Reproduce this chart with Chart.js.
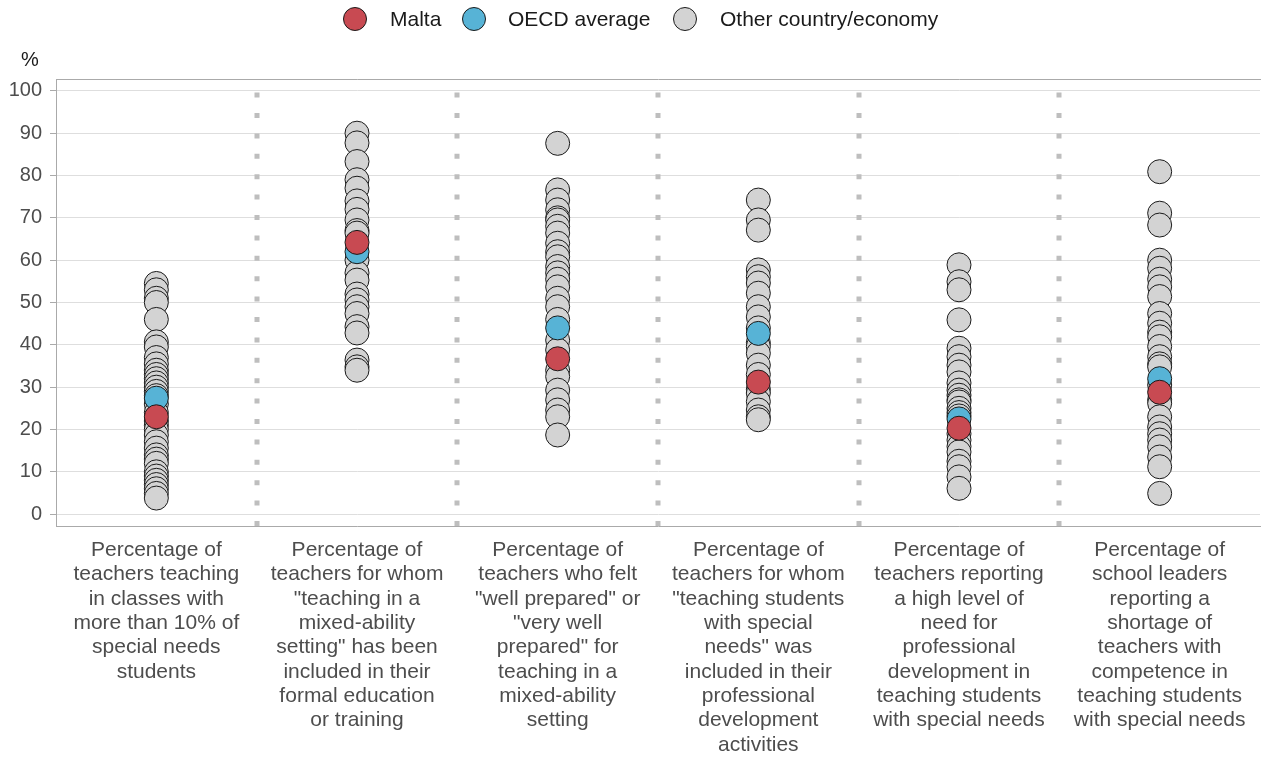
<!DOCTYPE html>
<html>
<head>
<meta charset="utf-8">
<script src="https://cdn.jsdelivr.net/npm/chart.js@4/dist/chart.umd.min.js"></script>
<style>
  body { margin: 0; background: #fff; }
  #wrap { position: relative; width: 1261px; height: 758px; font-family: "Liberation Sans", Arial, sans-serif; }
  .dot { position: absolute; top: 7px; width: 24px; height: 24px; border-radius: 50%; border: 1px solid #1a1a1a; box-sizing: border-box; }
  .lbl { position: absolute; top: 7px; line-height: 24px; font-size: 21px; color: #1a1a1a; }
</style>
</head>
<body>
<div id="wrap">
  <canvas id="chart" width="1261" height="758"></canvas>
  <div class="dot" style="left:343px;background:#c84a52"></div><div class="lbl" style="left:390px">Malta</div>
  <div class="dot" style="left:462px;background:#57b3d6"></div><div class="lbl" style="left:508px">OECD average</div>
  <div class="dot" style="left:673px;background:#d3d3d3"></div><div class="lbl" style="left:720px">Other country/economy</div>
</div>
<script>
// categories (x labels, one array of lines per column)
var categories = [
  ["Percentage of", "teachers teaching", "in classes with", "more than 10% of", "special needs", "students"],
  ["Percentage of", "teachers for whom", "\"teaching in a", "mixed-ability", "setting\" has been", "included in their", "formal education", "or training"],
  ["Percentage of", "teachers who felt", "\"well prepared\" or", "\"very well", "prepared\" for", "teaching in a", "mixed-ability", "setting"],
  ["Percentage of", "teachers for whom", "\"teaching students", "with special", "needs\" was", "included in their", "professional", "development", "activities"],
  ["Percentage of", "teachers reporting", "a high level of", "need for", "professional", "development in", "teaching students", "with special needs"],
  ["Percentage of", "school leaders", "reporting a", "shortage of", "teachers with", "competence in", "teaching students", "with special needs"]
];

var maltaValues = [23, 64.2, 36.7, 31.2, 20.3, 28.8];
var oecdValues = [27.4, 62, 44, 42.7, 22.5, 32];

var otherCol1 = [54.5, 53, 51, 50, 46, 40.7, 39.5, 37, 35.5, 34, 33, 32, 31, 30, 29, 28, 26, 24, 22, 21, 20, 18.7, 17.1, 15.6, 14, 13, 12, 10, 9, 8, 7, 6, 4.9, 3.8];
var otherCol2 = [90, 87.7, 83.3, 79, 77, 74, 72, 69.5, 67, 66.4, 60, 57, 55.3, 52, 50.6, 49, 47.4, 44.3, 42.8, 36.4, 34.8, 34];
var otherCol3 = [87.6, 76.6, 74.2, 71.9, 70, 69.5, 68, 66.4, 64, 62, 60.8, 58.5, 57, 55.5, 53.7, 51, 49, 46, 41.1, 38.8, 34, 32.5, 29.3, 27, 24.6, 23, 18.7];
var otherCol4 = [74.2, 69.5, 67.1, 57.7, 56.1, 54.6, 52.2, 49, 46.6, 44, 40.5, 39.6, 38, 35.2, 33, 29.5, 28.6, 26.6, 24.6, 23, 22.3];
var otherCol5 = [58.9, 54.9, 53, 45.9, 39.2, 37.2, 35.2, 33.6, 31, 29.3, 28.1, 27, 26.5, 25, 24, 23.2, 19, 17.5, 16, 14.7, 12.5, 11.2, 8.8, 6.1];
var otherCol6 = [80.9, 71.1, 68.3, 60, 58.1, 55.5, 53.7, 51.4, 47.4, 45.1, 43, 41.9, 39.6, 37.2, 35.5, 34.8, 30.5, 27, 26.2, 23, 20.6, 19, 17.5, 15.9, 13.5, 11.2, 4.9];
var otherValues = [otherCol1, otherCol2, otherCol3, otherCol4, otherCol5, otherCol6];

var yTicks = [0, 10, 20, 30, 40, 50, 60, 70, 80, 90, 100];

function toPoints(vals) {
  return vals.map(function(v, i){ return {x: i + 1, y: v}; });
}
var otherPoints = [];
otherValues.forEach(function(col, i){
  col.forEach(function(v){ otherPoints.push({x: i + 1, y: v}); });
});

var frame = {
  id: 'frame',
  beforeDatasetsDraw: function(chart) {
    var ctx = chart.ctx, a = chart.chartArea, x = chart.scales.x;
    ctx.save();
    // dotted separators between columns
    ctx.strokeStyle = '#bebebe';
    ctx.lineWidth = 5;
    ctx.setLineDash([5, 15.4]);
    for (var i = 1; i < categories.length; i++) {
      var px = Math.round(x.getPixelForValue(i + 0.5));
      ctx.beginPath();
      ctx.moveTo(px, a.bottom);
      ctx.lineTo(px, a.top);
      ctx.stroke();
    }
    // top border
    ctx.setLineDash([]);
    ctx.lineWidth = 1;
    ctx.strokeStyle = '#aaaaaa';
    ctx.beginPath();
    ctx.moveTo(a.left, a.top + 0.5);
    ctx.lineTo(chart.width, a.top + 0.5);
    ctx.stroke();
    // unit label
    ctx.fillStyle = '#1a1a1a';
    ctx.font = '20px "Liberation Sans", Arial, sans-serif';
    ctx.textAlign = 'center';
    ctx.textBaseline = 'middle';
    ctx.fillText('%', 30, 60);
    ctx.restore();
  }
};

new Chart(document.getElementById('chart'), {
  type: 'scatter',
  data: {
    datasets: [
      { label: 'Malta', data: toPoints(maltaValues), backgroundColor: '#c84a52' },
      { label: 'OECD average', data: toPoints(oecdValues), backgroundColor: '#57b3d6' },
      { label: 'Other country/economy', data: otherPoints, backgroundColor: '#d3d3d3' }
    ]
  },
  options: {
    responsive: false,
    animation: false,
    devicePixelRatio: 1,
    layout: { autoPadding: false, padding: { top: 79, right: 1, left: 0, bottom: 0 } },
    elements: {
      point: { radius: 12, borderWidth: 1, borderColor: '#1a1a1a', hoverRadius: 12 }
    },
    plugins: { legend: { display: false }, tooltip: { enabled: false } },
    scales: {
      x: {
        type: 'linear',
        min: 0.5,
        max: 6.5,
        afterBuildTicks: function(scale){
          scale.ticks = categories.map(function(c, i){ return {value: i + 1}; });
        },
        afterFit: function(scale){
          scale.height = 232;
          scale.paddingLeft = 0;
          scale.paddingRight = 0;
        },
        grid: { display: false, drawTicks: false },
        border: { display: true, color: '#aaaaaa', width: 1 },
        ticks: {
          autoSkip: false,
          maxRotation: 0,
          padding: 12,
          color: '#4d4d4d',
          font: { family: '"Liberation Sans", Arial, sans-serif', size: 21, lineHeight: 1.16 },
          callback: function(v){ return categories[v - 1] || ''; }
        }
      },
      y: {
        min: -2.8,
        max: 102.8,
        afterBuildTicks: function(scale){
          scale.ticks = yTicks.map(function(v){ return {value: v}; });
        },
        afterFit: function(scale){ scale.width = 56; },
        grid: { color: '#dedede', tickColor: '#aaaaaa', tickLength: 6, lineWidth: 1 },
        border: { display: true, color: '#aaaaaa', width: 1 },
        ticks: { padding: 8, color: '#4d4d4d', font: { family: '"Liberation Sans", Arial, sans-serif', size: 20 } }
      }
    }
  },
  plugins: [frame]
});
</script>
</body>
</html>
